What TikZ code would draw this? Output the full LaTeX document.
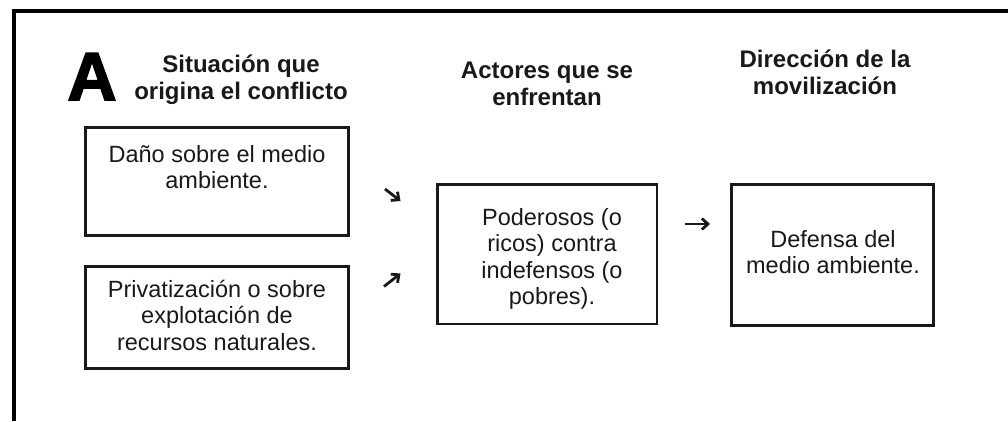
\documentclass[tikz,border=0pt]{standalone}
\usepackage{fontspec}
\setmainfont{Liberation Sans}
\newfontfamily\heavyA[BoldFeatures={FakeBold=2.5}]{Liberation Sans}
\usetikzlibrary{arrows.meta}
\begin{document}
\begin{tikzpicture}[x=1pt,y=-1pt,
  box/.style={draw=black!90, line width=2.8pt, rectangle, inner sep=0pt},
  head/.style={font=\fontsize{24}{27}\selectfont\bfseries, inner sep=0pt, anchor=base, text=black!90},
  body/.style={font=\fontsize{23.5}{26.5}\selectfont, inner sep=0pt, anchor=base, text=black!90},
  arr/.style={line width=2.8pt, black!90, -{Straight Barb[length=6pt,width=11pt]}}]
\useasboundingbox (0,0) rectangle (1008,421);
% frame
\draw[line width=4pt, miter limit=10] (1008,10.5) -- (13.5,10.5) -- (13.5,421);
% big letter
\node[inner sep=0pt, anchor=base, font=\heavyA\bfseries\fontsize{68}{72}\selectfont] (bigA) at (92,100) {A};
% headers
\node[head] (h1) at (241,72) {\begin{tabular}[t]{@{}c@{}}Situación que\\origina el conflicto\end{tabular}};
\node[head] (h2) at (547,78) {\begin{tabular}[t]{@{}c@{}}Actores que se\\enfrentan\end{tabular}};
\node[head] (h3) at (825,67) {\begin{tabular}[t]{@{}c@{}}Dirección de la\\movilización\end{tabular}};
% boxes
\node[box, minimum width=263pt, minimum height=108pt] (b1) at (217,181.5) {};
\node[box, minimum width=263pt, minimum height=102pt] (b2) at (217,317.5) {};
\node[box, minimum width=219.5pt, minimum height=139.5pt] (b3) at (547.2,254.2) {};
\node[box, minimum width=202pt, minimum height=141pt] (b4) at (832.5,255) {};
% box texts
\node[body] (t1) at (217,162) {\begin{tabular}[t]{@{}c@{}}Daño sobre el medio\\ambiente.\end{tabular}};
\node[body] (t2) at (217,297) {\begin{tabular}[t]{@{}c@{}}Privatización o sobre\\explotación de\\recursos naturales.\end{tabular}};
\node[body] (t3) at (552,225) {\begin{tabular}[t]{@{}c@{}}Poderosos (o\\ricos) contra\\indefensos (o\\pobres).\end{tabular}};
\node[body] (t4) at (833,247) {\begin{tabular}[t]{@{}c@{}}Defensa del\\medio ambiente.\end{tabular}};
% small arrows
\coordinate (a1s) at (385,189);
\coordinate (a1e) at (400.5,201);
\coordinate (a2s) at (384,286.5);
\coordinate (a2e) at (400.5,273.5);
\coordinate (a3s) at (685,224);
\coordinate (a3e) at (710,224);
\draw[arr] (a1s) -- (a1e);
\draw[arr] (a2s) -- (a2e);
\draw[arr] (a3s) -- (a3e);
\end{tikzpicture}
\end{document}
